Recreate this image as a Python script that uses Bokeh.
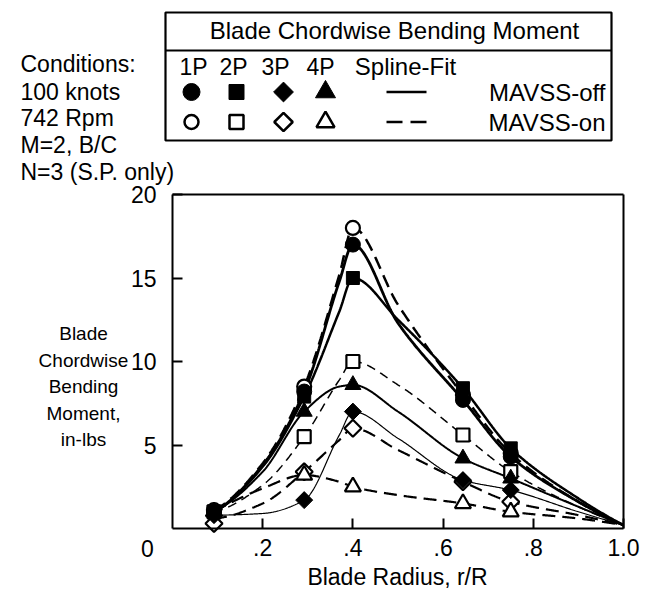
import numpy as np
from bokeh.plotting import figure
from bokeh.models import Range1d, FixedTicker, LinearAxis
from bokeh.embed import file_html
from bokeh.resources import INLINE
from bokeh.core.properties import value

FONT = "Liberation Sans"

# ---------------- data ----------------
R_MARK = [0.092, 0.292, 0.40, 0.644, 0.75]
M_1P_OFF = [1.0, 8.2, 17.0, 7.7, 4.3]
M_1P_ON = [1.1, 8.5, 18.0, 8.0, 4.5]
M_2P_OFF = [1.0, 7.9, 15.0, 8.4, 4.8]
M_2P_ON = [1.0, 5.5, 10.0, 5.6, 3.4]
M_3P_OFF = [0.8, 1.7, 7.0, 2.9, 2.3]
M_3P_ON = [0.3, 3.4, 6.0, 2.8, 1.6]
M_4P_OFF = [1.0, 7.0, 8.6, 4.2, 3.0]
M_4P_ON = [1.0, 3.2, 2.5, 1.5, 1.0]

# spline-fit curves (knots)
R_FIT = [0.092, 0.2, 0.292, 0.37, 0.40, 0.5, 0.644, 0.75, 0.9, 1.0]
F_1P_OFF = [1.0, 3.8, 8.2, 14.8, 17.0, 12.3, 7.7, 4.3, 1.6, 0.2]
F_1P_ON = [1.1, 3.9, 8.5, 15.2, 18.0, 13.4, 8.0, 4.5, 1.6, 0.2]
F_2P_OFF = [1.0, 3.7, 7.9, 13.0, 15.0, 12.5, 8.4, 4.8, 1.8, 0.2]
F_2P_ON = [1.0, 2.6, 5.5, 8.9, 10.0, 8.6, 5.6, 3.4, 1.3, 0.2]
F_3P_OFF = [0.8, 0.9, 1.7, 5.6, 7.0, 5.4, 2.9, 2.3, 1.0, 0.2]
F_3P_ON = [0.6, 1.5, 3.4, 5.3, 6.0, 4.7, 2.8, 1.6, 0.8, 0.2]
F_4P_OFF = [1.0, 3.4, 7.0, 8.5, 8.6, 7.0, 4.2, 3.0, 1.3, 0.2]
F_4P_ON = [1.0, 2.4, 3.2, 2.8, 2.5, 2.0, 1.5, 1.0, 0.6, 0.2]

X_TICKS = [0.2, 0.4, 0.6, 0.8, 1.0]
X_TICK_LABELS = [".2", ".4", ".6", ".8", "1.0"]
Y_TICKS = [5, 10, 15, 20]
X_TITLE = "Blade Radius, r/R"
Y_TITLE = ["Blade", "Chordwise", "Bending", "Moment,", "in-lbs"]
LEGEND_TITLE = "Blade Chordwise Bending Moment"
CONDITIONS = ["Conditions:", "100 knots", "742 Rpm", "M=2, B/C", "N=3 (S.P. only)"]
HARMONICS = ["1P", "2P", "3P", "4P"]
STATES = ["MAVSS-off", "MAVSS-on"]


def pchip(xk, yk, n=500):
    xk = np.asarray(xk, float)
    yk = np.asarray(yk, float)
    h = np.diff(xk)
    d = np.diff(yk) / h
    m = np.zeros_like(yk)
    for k in range(1, len(xk) - 1):
        if d[k - 1] * d[k] <= 0:
            m[k] = 0.0
        else:
            w1 = 2 * h[k] + h[k - 1]
            w2 = h[k] + 2 * h[k - 1]
            m[k] = (w1 + w2) / (w1 / d[k - 1] + w2 / d[k])

    def end(h0, h1, d0, d1):
        mm = ((2 * h0 + h1) * d0 - h0 * d1) / (h0 + h1)
        if np.sign(mm) != np.sign(d0):
            mm = 0.0
        elif np.sign(d0) != np.sign(d1) and abs(mm) > abs(3 * d0):
            mm = 3 * d0
        return mm

    m[0] = end(h[0], h[1], d[0], d[1])
    m[-1] = end(h[-1], h[-2], d[-1], d[-2])
    xs = np.linspace(xk[0], xk[-1], n)
    idx = np.clip(np.searchsorted(xk, xs, side="right") - 1, 0, len(xk) - 2)
    t = (xs - xk[idx]) / h[idx]
    h00 = 2 * t**3 - 3 * t**2 + 1
    h10 = t**3 - 2 * t**2 + t
    h01 = -2 * t**3 + 3 * t**2
    h11 = t**3 - t**2
    ys = h00 * yk[idx] + h10 * h[idx] * m[idx] + h01 * yk[idx + 1] + h11 * h[idx] * m[idx + 1]
    return xs, ys


# ---------------- layout geometry (canvas pixels) ----------------
W, H = 646, 591
FX0, FX1 = 172, 623      # plot box left / right  (r/R = 0 .. 1)
FY0, FY1 = 528, 194      # plot box bottom / top  (moment = 0 .. 20)
sx = (FX1 - FX0) / 1.0
sy = (FY0 - FY1) / 20.0
x_range = Range1d(-FX0 / sx, (W - FX0) / sx)
y_range = Range1d(-(H - FY0) / sy, FY0 / sy)

p = figure(width=W, height=H, x_range=x_range, y_range=y_range,
           x_axis_type=None, y_axis_type=None, toolbar_location=None,
           output_backend="svg", min_border=0)
p.outline_line_color = None
p.background_fill_color = "white"
p.border_fill_color = "white"
p.extra_x_ranges = {"px": Range1d(0, W)}
p.extra_y_ranges = {"px": Range1d(H, 0)}

FS = "23px"
FSL = "24px"

# ---------------- axes (drawn at fixed data locations) ----------------
xaxis = LinearAxis(fixed_location=0, bounds=(0, 1), ticker=FixedTicker(ticks=X_TICKS))
xaxis.major_label_overrides = {t: s for t, s in zip(X_TICKS, X_TICK_LABELS)}
yaxis = LinearAxis(fixed_location=0, bounds=(0, 20), ticker=FixedTicker(ticks=Y_TICKS))
topaxis = LinearAxis(fixed_location=20, bounds=(0, 1), ticker=FixedTicker(ticks=[]))
rightaxis = LinearAxis(fixed_location=1, bounds=(0, 20), ticker=FixedTicker(ticks=[]))
for ax in (xaxis, yaxis, topaxis, rightaxis):
    ax.major_tick_in = 10
    ax.major_tick_out = 0
    ax.minor_tick_in = 0
    ax.minor_tick_out = 0
    ax.axis_line_width = 2
    ax.axis_line_color = "black"
    ax.major_tick_line_width = 2
    ax.major_label_text_font = FONT
    ax.major_label_text_font_size = FS
    ax.major_label_text_color = "black"
xaxis.major_label_standoff = 10
yaxis.major_label_standoff = 16
for ax in (topaxis, rightaxis):
    ax.major_label_text_font_size = "0px"
p.add_layout(xaxis, "below")
p.add_layout(yaxis, "left")
p.add_layout(topaxis, "above")
p.add_layout(rightaxis, "right")

# ---------------- curves and markers ----------------
series = [
    # marks, fit, marker, filled, dash, width, size
    (M_3P_ON, F_3P_ON, "diamond", False, "13 7", 2.2, 12),
    (M_4P_ON, F_4P_ON, "triangle", False, "13 7", 2.2, 16),
    (M_2P_ON, F_2P_ON, "square", False, "9 6", 1.5, 13),
    (M_1P_ON, F_1P_ON, "circle", False, "13 7", 2.5, 14),
    (M_3P_OFF, F_3P_OFF, "diamond", True, "solid", 1.2, 12),
    (M_4P_OFF, F_4P_OFF, "triangle", True, "solid", 2.0, 16),
    (M_2P_OFF, F_2P_OFF, "square", True, "solid", 2.5, 13),
    (M_1P_OFF, F_1P_OFF, "circle", True, "solid", 2.8, 15),
]

for marks, fit, mk, filled, dash, lw, sz in series:
    xs, ys = pchip(R_FIT, fit)
    p.line(xs, ys, line_color="black", line_width=lw, line_dash=dash)

for filled_pass in (False, True):
    for marks, fit, mk, filled, dash, lw, sz in series:
        if filled != filled_pass:
            continue
        kw = dict(size=sz, line_color="black")
        if mk == "diamond":
            kw.update(marker="square", angle=np.pi / 4)
        else:
            kw.update(marker=mk)
        if filled:
            kw.update(fill_color="black", line_width=1)
        else:
            kw.update(fill_color="white", line_width=2.2)
        p.scatter(R_MARK, marks, **kw)

# ---------------- texts around the plot (canvas pixel coords) ----------------
TXT = dict(text_font=value(FONT), text_color="black", text_baseline="middle",
           x_range_name="px", y_range_name="px")
p.text(x=[83] * 5, y=[333, 360, 386, 413, 439], text=Y_TITLE, text_font_size="19px",
       text_align="center", **TXT)
p.text(x=[147], y=[548], text=["0"], text_font_size=FS, text_align="center", **TXT)
p.text(x=[397], y=[576], text=[X_TITLE], text_font_size=FS, text_align="center", **TXT)

# ---------------- legend box and conditions ----------------
PX = dict(x_range_name="px", y_range_name="px")
p.quad(left=[165], right=[611], top=[12], bottom=[140], fill_color=None,
       line_color="black", line_width=2.2, **PX)
p.segment(x0=[165], y0=[50], x1=[611], y1=[50], line_color="black", line_width=2.2, **PX)
p.text(x=[394], y=[30], text=[LEGEND_TITLE], text_font_size=FSL, text_align="center", **TXT)
p.text(x=[193, 233, 275, 320], y=[66] * 4, text=HARMONICS, text_font_size=FS,
       text_align="center", **TXT)
p.text(x=[405], y=[66], text=["Spline-Fit"], text_font_size=FSL, text_align="center", **TXT)
p.text(x=[605, 605], y=[92, 122], text=STATES, text_font_size=FSL, text_align="right", **TXT)
p.text(x=[20] * 5, y=[63, 91, 117, 144, 171], text=CONDITIONS, text_font_size=FS,
       text_align="left", **TXT)

ry_f, ry_o = 91.5, 121.5
p.scatter(x=[191], y=[ry_f], marker="circle", size=17, fill_color="black", line_color="black", **PX)
p.scatter(x=[191], y=[ry_o], marker="circle", size=14, fill_color="white", line_color="black", line_width=2.5, **PX)
p.scatter(x=[236], y=[ry_f], marker="square", size=15, fill_color="black", line_color="black", **PX)
p.scatter(x=[236], y=[ry_o], marker="square", size=14, fill_color="white", line_color="black", line_width=2.5, **PX)
p.scatter(x=[283], y=[ry_f], marker="square", angle=np.pi / 4, size=14, fill_color="black", line_color="black", **PX)
p.scatter(x=[283], y=[ry_o], marker="square", angle=np.pi / 4, size=13, fill_color="white", line_color="black", line_width=2.5, **PX)
p.scatter(x=[325], y=[ry_f], marker="triangle", size=20, fill_color="black", line_color="black", **PX)
p.scatter(x=[325], y=[ry_o], marker="triangle", size=18, fill_color="white", line_color="black", line_width=2.5, **PX)
p.segment(x0=[386], y0=[ry_f], x1=[426], y1=[ry_f], line_color="black", line_width=2.5, **PX)
p.segment(x0=[386], y0=[ry_o], x1=[426], y1=[ry_o], line_color="black", line_width=2.5,
          line_dash="16 8", **PX)

open("out.html", "w").write(file_html(p, INLINE))
